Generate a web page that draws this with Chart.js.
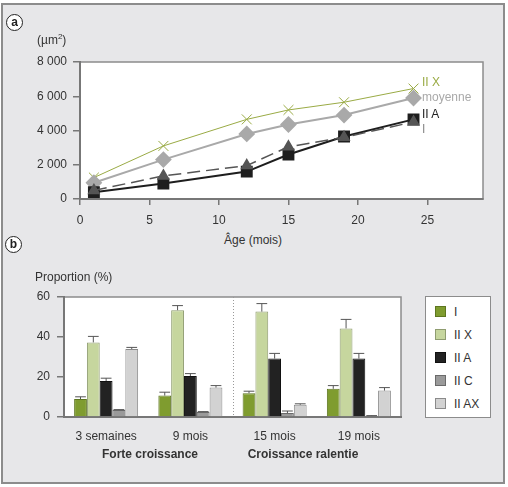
<!DOCTYPE html>
<html lang="fr">
<head>
<meta charset="UTF-8">
<title>Surface et proportion des fibres</title>
<script src="https://cdn.jsdelivr.net/npm/chart.js@4"></script>
<style>
  html, body { margin: 0; padding: 0; background: #fff; }
  body { width: 508px; height: 487px; position: relative; overflow: hidden;
         font-family: "Liberation Sans", Arial, sans-serif; font-size: 12px; color: #333; }
  #frame { position: absolute; left: 1px; top: 3px; width: 504px; height: 481px;
           box-sizing: border-box; border: 2px solid #8c8c8c; background: #e7e7e9; }
  canvas { position: absolute; left: 0; }
  .txt { position: absolute; line-height: 14px; white-space: nowrap; }
  .c { transform: translateX(-50%); }
  .panel { position: absolute; width: 15px; height: 15px; border: 1px solid #222; border-radius: 50%;
           background: #fff; font-weight: bold; text-align: center; line-height: 14px; color: #222; }
  #legend { position: absolute; left: 425px; top: 296px; width: 66px; height: 122px;
            box-sizing: border-box; border: 1px solid #8c8c8c; background: #fff; }
  #legend .sw { position: absolute; left: 9px; width: 9px; height: 9px; border: 1px solid #777; }
  #legend .lb { position: absolute; left: 28px; line-height: 14px; color: #333; }
</style>
</head>
<body>
<div id="frame"></div>
<canvas id="surface" width="508" height="232" style="top:0"></canvas>
<canvas id="proportion" width="508" height="200" style="top:260px"></canvas>

<div class="panel" style="left:6px;top:14px">a</div>
<div class="panel" style="left:5px;top:236px">b</div>
<div class="txt" style="left:37px;top:33px">(µm<sup style="font-size:8px;line-height:0">2</sup>)</div>
<div class="txt c" style="left:253px;top:233px">Âge (mois)</div>
<div id="lineLabels"></div>
<div class="txt" style="left:35px;top:270px">Proportion (%)</div>
<div class="txt c" style="left:150px;top:447px;font-weight:bold">Forte croissance</div>
<div class="txt c" style="left:303px;top:447px;font-weight:bold">Croissance ralentie</div>
<div id="legend"></div>

<script>
  // --- (a) surface des fibres selon l'âge
  const ages = [1, 6, 12, 15, 19, 24];
  const surfIIX = [1250, 3100, 4650, 5200, 5650, 6450];
  const surfMoyenne = [950, 2300, 3800, 4350, 4900, 5900];
  const surfIIA = [400, 900, 1600, 2600, 3650, 4650];
  const surfI = [500, 1350, 1950, 3050, 3600, 4500];

  // --- (b) proportion des types de fibres
  const periods = ['3 semaines', '9 mois', '15 mois', '19 mois'];
  const fibreTypes = ['I', 'II X', 'II A', 'II C', 'II AX'];
  const propI = [9, 10.7, 11.9, 14.1];
  const propIIX = [37.3, 53.4, 52.7, 44.3];
  const propIIA = [18, 20.5, 29.2, 29.2];
  const propIIC = [3.5, 2.5, 2, 0.5];
  const propIIAX = [34, 14.7, 6.1, 13.2];
  const errI = [1.1, 1.7, 1.0, 1.6];
  const errIIX = [3, 2.3, 4, 4.5];
  const errIIA = [1.4, 1.2, 2.6, 2.6];
  const errIIC = [0.2, 0.2, 1, 0.2];
  const errIIAX = [0.8, 1.0, 0.5, 1.5];

  const barColors = ['#7f9c2f', '#c6d69e', '#222222', '#9a9a9a', '#d2d2d2'];
  const barBorders = ['#5d7620', '#8f9c70', '#111111', '#6a6a6a', '#8a8a8a'];

  Chart.defaults.font.family = '"Liberation Sans", Arial, sans-serif';
  Chart.defaults.font.size = 12;
  Chart.defaults.color = '#333';

  const plotFrame = {
    id: 'plotFrame',
    beforeDraw(chart) {
      const { ctx, chartArea: a } = chart;
      ctx.save();
      ctx.fillStyle = '#fff';
      ctx.fillRect(a.left, a.top, a.right - a.left, a.bottom - a.top);
      ctx.strokeStyle = '#8c8c8c';
      ctx.lineWidth = 1.5;
      ctx.strokeRect(a.left, a.top, a.right - a.left, a.bottom - a.top);
      ctx.restore();
    }
  };

  const pt = (xs, ys) => xs.map((x, i) => ({ x, y: ys[i] }));

  new Chart(document.getElementById('surface'), {
    type: 'line',
    data: {
      datasets: [
        { label: 'II X', data: pt(ages, surfIIX), borderColor: '#9aab45', backgroundColor: '#9aab45',
          borderWidth: 1, pointStyle: 'crossRot', pointRadius: 7, pointBorderWidth: 1, order: 3 },
        { label: 'moyenne', data: pt(ages, surfMoyenne), borderColor: '#a9a9a9', backgroundColor: '#a9a9a9',
          borderWidth: 2, pointStyle: 'rectRot', pointRadius: 7, order: 2 },
        { label: 'II A', data: pt(ages, surfIIA), borderColor: '#1e1e1e', backgroundColor: '#1e1e1e',
          borderWidth: 2, pointStyle: 'rect', pointRadius: 7, order: 1 },
        { label: 'I', data: pt(ages, surfI), borderColor: '#555', backgroundColor: '#555',
          borderWidth: 1.5, borderDash: [13, 6], pointStyle: 'triangle', pointRadius: 6, order: 0 },
      ]
    },
    options: {
      responsive: false,
      animation: false,
      layout: { padding: { left: 0, right: 25, top: 62, bottom: 0 } },
      plugins: { legend: { display: false }, tooltip: { enabled: false } },
      scales: {
        x: {
          type: 'linear', min: 0, max: 29,
          afterBuildTicks: s => { s.ticks = s.ticks.filter(t => t.value % 5 === 0); },
          afterFit: s => { s.height = 33; },
          ticks: { stepSize: 5, padding: 8 },
          grid: { drawOnChartArea: false, tickLength: 6, color: '#777', lineWidth: 1.5 },
          border: { color: '#777', width: 2 },
        },
        y: {
          min: 0, max: 8000,
          afterFit: s => { s.width = 80; },
          ticks: { stepSize: 2000, padding: 6,
                   callback: v => v === 0 ? '0' : (v / 1000) + ' 000' },
          grid: { drawOnChartArea: false, tickLength: 7, color: '#777', lineWidth: 1.5 },
          border: { color: '#777', width: 2 },
        }
      }
    },
    plugins: [plotFrame]
  });

  // line end labels
  const lineLabels = [['II X', '#9aab45', 75], ['moyenne', '#a9a9a9', 90], ['II A', '#222', 107], ['I', '#888', 122]];
  document.getElementById('lineLabels').innerHTML = lineLabels
    .map(([t, c, top]) => `<div class="txt" style="left:422px;top:${top}px;color:${c}">${t}</div>`).join('');

  const propValues = [propI, propIIX, propIIA, propIIC, propIIAX];
  const propErrors = [errI, errIIX, errIIA, errIIC, errIIAX];

  const errorBars = {
    id: 'errorBars',
    afterDatasetsDraw(chart) {
      const { ctx, scales: { x, y }, chartArea: a } = chart;
      ctx.save();
      // separator between growth phases
      const sepX = Math.round((x.getPixelForValue(1) + x.getPixelForValue(2)) / 2) + 0.5;
      ctx.strokeStyle = '#999';
      ctx.lineWidth = 1;
      ctx.setLineDash([1, 2]);
      ctx.beginPath();
      ctx.moveTo(sepX, a.top);
      ctx.lineTo(sepX, a.bottom);
      ctx.stroke();
      ctx.setLineDash([]);
      ctx.strokeStyle = '#555';
      chart.data.datasets.forEach((ds, di) => {
        chart.getDatasetMeta(di).data.forEach((bar, i) => {
          const top = y.getPixelForValue(ds.data[i] + ds.err[i]);
          const half = bar.width * 0.42;
          ctx.beginPath();
          ctx.moveTo(bar.x, bar.y);
          ctx.lineTo(bar.x, top);
          ctx.moveTo(bar.x - half, top);
          ctx.lineTo(bar.x + half, top);
          ctx.stroke();
        });
      });
      ctx.restore();
    }
  };

  new Chart(document.getElementById('proportion'), {
    type: 'bar',
    data: {
      labels: periods,
      datasets: fibreTypes.map((t, k) => ({
        label: t, data: propValues[k], err: propErrors[k],
        backgroundColor: barColors[k], borderColor: barBorders[k], borderWidth: 1,
        categoryPercentage: 0.76, barPercentage: 1.0,
      }))
    },
    options: {
      responsive: false,
      animation: false,
      layout: { padding: { left: 0, right: 107, top: 37, bottom: 0 } },
      plugins: { legend: { display: false }, tooltip: { enabled: false } },
      scales: {
        x: {
          afterFit: s => { s.height = 43; },
          ticks: { padding: 4 },
          grid: { display: false },
          border: { color: '#777', width: 2 },
        },
        y: {
          min: 0, max: 60,
          afterFit: s => { s.width = 64; },
          ticks: { stepSize: 20, padding: 7 },
          grid: { drawOnChartArea: false, tickLength: 7, color: '#777', lineWidth: 1.5 },
          border: { color: '#777', width: 2 },
        }
      }
    },
    plugins: [plotFrame, errorBars]
  });

  // legend box
  const rowTops = [15, 38, 61, 84, 107];
  document.getElementById('legend').innerHTML = fibreTypes.map((t, k) =>
    `<div class="sw" style="top:${rowTops[k] - 6}px;background:${barColors[k]};border-color:${barBorders[k]}"></div>` +
    `<div class="lb" style="top:${rowTops[k] - 7}px">${t}</div>`).join('');
</script>
</body>
</html>
